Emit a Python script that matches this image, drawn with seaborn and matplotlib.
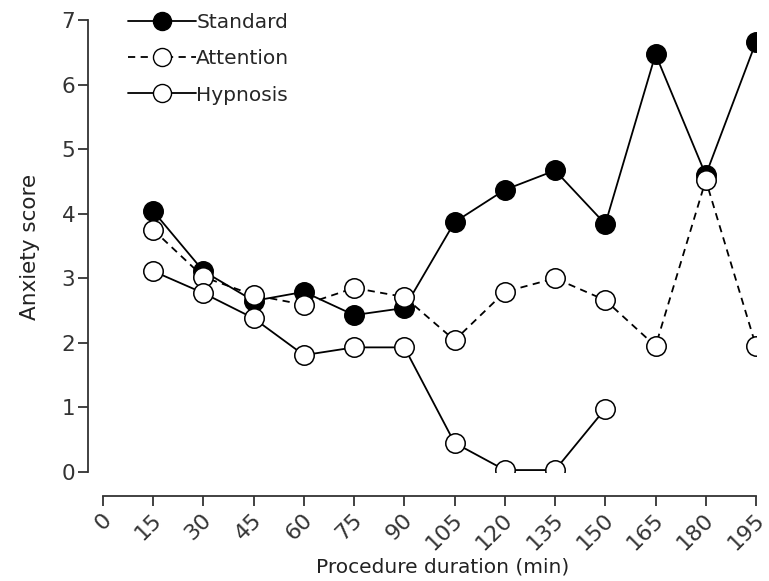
import numpy as np
import pandas as pd
import matplotlib
matplotlib.use("Agg")
import matplotlib.pyplot as plt
import matplotlib.transforms as mtransforms
import seaborn as sns
from matplotlib.lines import Line2D

# data
minutes = [15, 30, 45, 60, 75, 90, 105, 120, 135, 150, 165, 180, 195]
standard = [4.04, 3.11, 2.65, 2.79, 2.43, 2.54, 3.87, 4.37, 4.67, 3.84, 6.47, 4.60, 6.66]
attention = [3.75, 3.02, 2.74, 2.59, 2.85, 2.71, 2.04, 2.79, 3.00, 2.66, 1.95, 4.52, 1.95]
hypnosis = [3.11, 2.77, 2.38, 1.81, 1.93, 1.93, 0.45, 0.03, 0.03, 0.98]
x_ticks = [0, 15, 30, 45, 60, 75, 90, 105, 120, 135, 150, 165, 180, 195]

sns.set_style("ticks")
plt.rcParams['font.family'] = ['DejaVu Sans']

fig = plt.figure(figsize=(7.69, 5.81), dpi=100)
ax = fig.add_axes([103 / 769, (581 - 472) / 581, (756 - 103) / 769, (472 - 20) / 581])

df_std = pd.DataFrame({"min": minutes, "score": standard})
df_att = pd.DataFrame({"min": minutes, "score": attention})
df_hyp = pd.DataFrame({"min": minutes[:len(hypnosis)], "score": hypnosis})

common = dict(ax=ax, x="min", y="score", marker="o", markersize=14,
              markeredgecolor="black", markeredgewidth=1.1, linewidth=1.3,
              color="black")
sns.lineplot(data=df_std, markerfacecolor="black", zorder=3, **common)
sns.lineplot(data=df_att, markerfacecolor="white", linestyle=(0, (4, 3)), zorder=4, **common)
sns.lineplot(data=df_hyp, markerfacecolor="white", zorder=5, **common)

# offset spines first: moving spines resets the tick labels
sns.despine(ax=ax, offset={"left": 11, "bottom": 17})
for s in ["left", "bottom"]:
    ax.spines[s].set_linewidth(1.3)
    ax.spines[s].set_color("#333333")

ax.set_xlim(0, 195)
ax.set_ylim(0, 7)
ax.set_xticks(x_ticks)
ax.set_xticklabels([str(t) for t in x_ticks], rotation=45, ha="right", va="center",
                   rotation_mode="anchor", fontsize=16, color="#333333")
ax.set_yticks(range(8))
ax.set_yticklabels([str(t) for t in range(8)], fontsize=15.5, color="#333333")
ax.tick_params(axis="y", length=7, width=1.3, colors="#333333",
               labelcolor="#333333", pad=2)
ax.tick_params(axis="x", length=7, width=1.3, colors="#333333",
               labelcolor="#333333", pad=8)
# nudge the rotated labels a little right so they end under their ticks
shift = mtransforms.ScaledTranslation(5 / 100, 0, fig.dpi_scale_trans)
for lbl in ax.get_xticklabels():
    lbl.set_transform(lbl.get_transform() + shift)

ax.set_xlabel("Procedure duration (min)", fontsize=14.5, color="#222222", va="center")
ax.set_ylabel("Anxiety score", fontsize=15.5, color="#222222", va="center")
ax.xaxis.set_label_coords(0.52, -0.21)
ax.yaxis.set_label_coords(-0.112, 0.498)

handles = [
    Line2D([], [], color="black", linewidth=1.3, marker="o", markersize=13,
           markerfacecolor="black", markeredgecolor="black"),
    Line2D([], [], color="black", linewidth=1.3, linestyle=(0, (4, 3)), marker="o",
           markersize=13, markerfacecolor="white", markeredgecolor="black"),
    Line2D([], [], color="black", linewidth=1.3, marker="o", markersize=13,
           markerfacecolor="white", markeredgecolor="black"),
]
ax.legend(handles, ["Standard", "Attention", "Hypnosis"], loc="upper left",
          bbox_to_anchor=(0.01, 1.055), frameon=False, fontsize=14.5,
          handlelength=3.4, handletextpad=0.0, labelspacing=0.85)

fig.savefig("out.png", dpi=100)
